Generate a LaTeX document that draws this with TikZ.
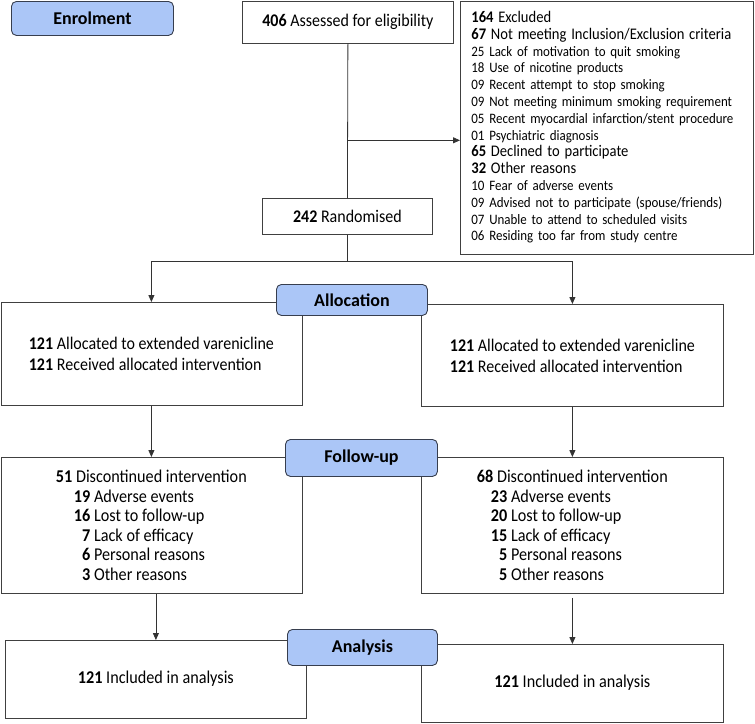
\documentclass[tikz,border=0pt]{standalone}
\usepackage{fontspec}
\setmainfont{Carlito}
\newfontfamily\boxfont{Carlito}[FakeStretch=0.9]
\usetikzlibrary{arrows.meta,positioning}
\definecolor{stageblue}{RGB}{171,198,247}
\definecolor{stageline}{RGB}{55,62,78}

\tikzset{
  box/.style={draw=black!75, line width=0.8pt, fill=white, anchor=north west,
    inner sep=0pt, align=left, font=\boxfont\fontsize{17.8}{21}\selectfont},
  stage/.style={draw=stageline, line width=0.9pt, fill=stageblue, rounded corners=5pt,
    anchor=north west, inner sep=0pt, font=\fontsize{18}{20}\selectfont\bfseries},
  ln/.style={draw=black!80, line width=0.8pt},
  arr/.style={ln, -{Triangle[length=7pt,width=6pt]}}
}
\newcommand{\bigline}{\fontsize{16.2}{16.8}\selectfont}

\begin{document}
\begin{tikzpicture}[x=1pt,y=-1pt]
    \useasboundingbox (0,0) rectangle (755,723);
    % enrolment
    \node[box, align=center, minimum width=211, minimum height=42] (assess) at (242,0.5) {\textbf{406} Assessed for eligibility};
    \node[box, minimum width=293, minimum height=253, text width=271, inner xsep=11pt,
        font=\boxfont\fontsize{14.4}{16.8}\selectfont] (excl) at (460,0.5) {%
        {\bigline\textbf{164} Excluded}\\
        {\bigline\textbf{67} Not meeting Inclusion/Exclusion criteria}\\
        25 Lack of motivation to quit smoking\\
        18 Use of nicotine products\\
        09 Recent attempt to stop smoking\\
        09 Not meeting minimum smoking requirement\\
        05 Recent myocardial infarction/stent procedure\\
        01 Psychiatric diagnosis\\
        {\bigline\textbf{65} Declined to participate}\\
        {\bigline\textbf{32} Other reasons}\\
        10 Fear of adverse events\\
        09 Advised not to participate (spouse/friends)\\
        07 Unable to attend to scheduled visits\\
        06 Residing too far from study centre};
    \node[box, align=center, minimum width=170, minimum height=36] (rand) at (262,198) {\textbf{242} Randomised};

    % allocation
    \node[box, minimum width=301, minimum height=103] (allocL) at (0.5,302) {%
        \textbf{121} Allocated to extended varenicline\\
        \textbf{121} Received allocated intervention};
    \node[box, minimum width=302, minimum height=102] (allocR) at (421,304) {%
        \textbf{121} Allocated to extended varenicline\\
        \textbf{121} Received allocated intervention};

    % follow-up
    \node[box, minimum width=301, minimum height=136,
        font=\boxfont\fontsize{18}{19.5}\selectfont] (fuL) at (0.5,457) {%
        \textbf{51} Discontinued intervention\\
        \hspace*{18pt}\textbf{19} Adverse events\\
        \hspace*{18pt}\textbf{16} Lost to follow-up\\
        \hspace*{18pt}\phantom{\textbf{1}}\textbf{7} Lack of efficacy\\
        \hspace*{18pt}\phantom{\textbf{1}}\textbf{6} Personal reasons\\
        \hspace*{18pt}\phantom{\textbf{1}}\textbf{3} Other reasons};
    \node[box, minimum width=302, minimum height=136,
        font=\boxfont\fontsize{18}{19.5}\selectfont] (fuR) at (421,457) {%
        \textbf{68} Discontinued intervention\\
        \hspace*{14pt}\textbf{23} Adverse events\\
        \hspace*{14pt}\textbf{20} Lost to follow-up\\
        \hspace*{14pt}\textbf{15} Lack of efficacy\\
        \hspace*{14pt}\phantom{\textbf{1}}\textbf{5} Personal reasons\\
        \hspace*{14pt}\phantom{\textbf{1}}\textbf{5} Other reasons};

    % analysis
    \node[box, minimum width=301, minimum height=78,
        font=\boxfont\fontsize{18}{21}\selectfont] (anaL) at (5,640) {\raisebox{5pt}{\textbf{121} Included in analysis}};
    \node[box, minimum width=302, minimum height=78,
        font=\boxfont\fontsize{18}{21}\selectfont] (anaR) at (421,644) {\raisebox{5pt}{\textbf{121} Included in analysis}};

    % stage labels
    \node[stage, minimum width=162, minimum height=34] (enrol) at (11,1) {Enrolment};
    \node[stage, minimum width=151, minimum height=31] (alloc) at (276,284) {Allocation};
    \node[stage, minimum width=152, minimum height=37] (follow) at (285,439) {Follow-up};
    \node[stage, minimum width=150, minimum height=36] (analysis) at (287,629) {Analysis};

    % connectors
    \draw[ln] (assess.south) -- (rand.north);
    \path (assess.south) ++(0,97) coordinate (split);
    \draw[arr] (split) -- (split -| excl.west);
    \path (rand.south) ++(0,27) coordinate (fork);
    \draw[ln] (rand.south) -- (fork);
    \draw[arr] (fork) -| (allocL.north);
    \draw[arr] (fork) -| (allocR.north);
    \draw[arr] (allocL.south) -- (fuL.north);
    \draw[arr] (allocR.south) -- (fuR.north);
    \draw[arr] (anaL.north |- fuL.south) -- (anaL.north);
    \draw[arr, shorten <=4pt] (anaR.north |- fuR.south) -- (anaR.north);
\end{tikzpicture}
\end{document}
